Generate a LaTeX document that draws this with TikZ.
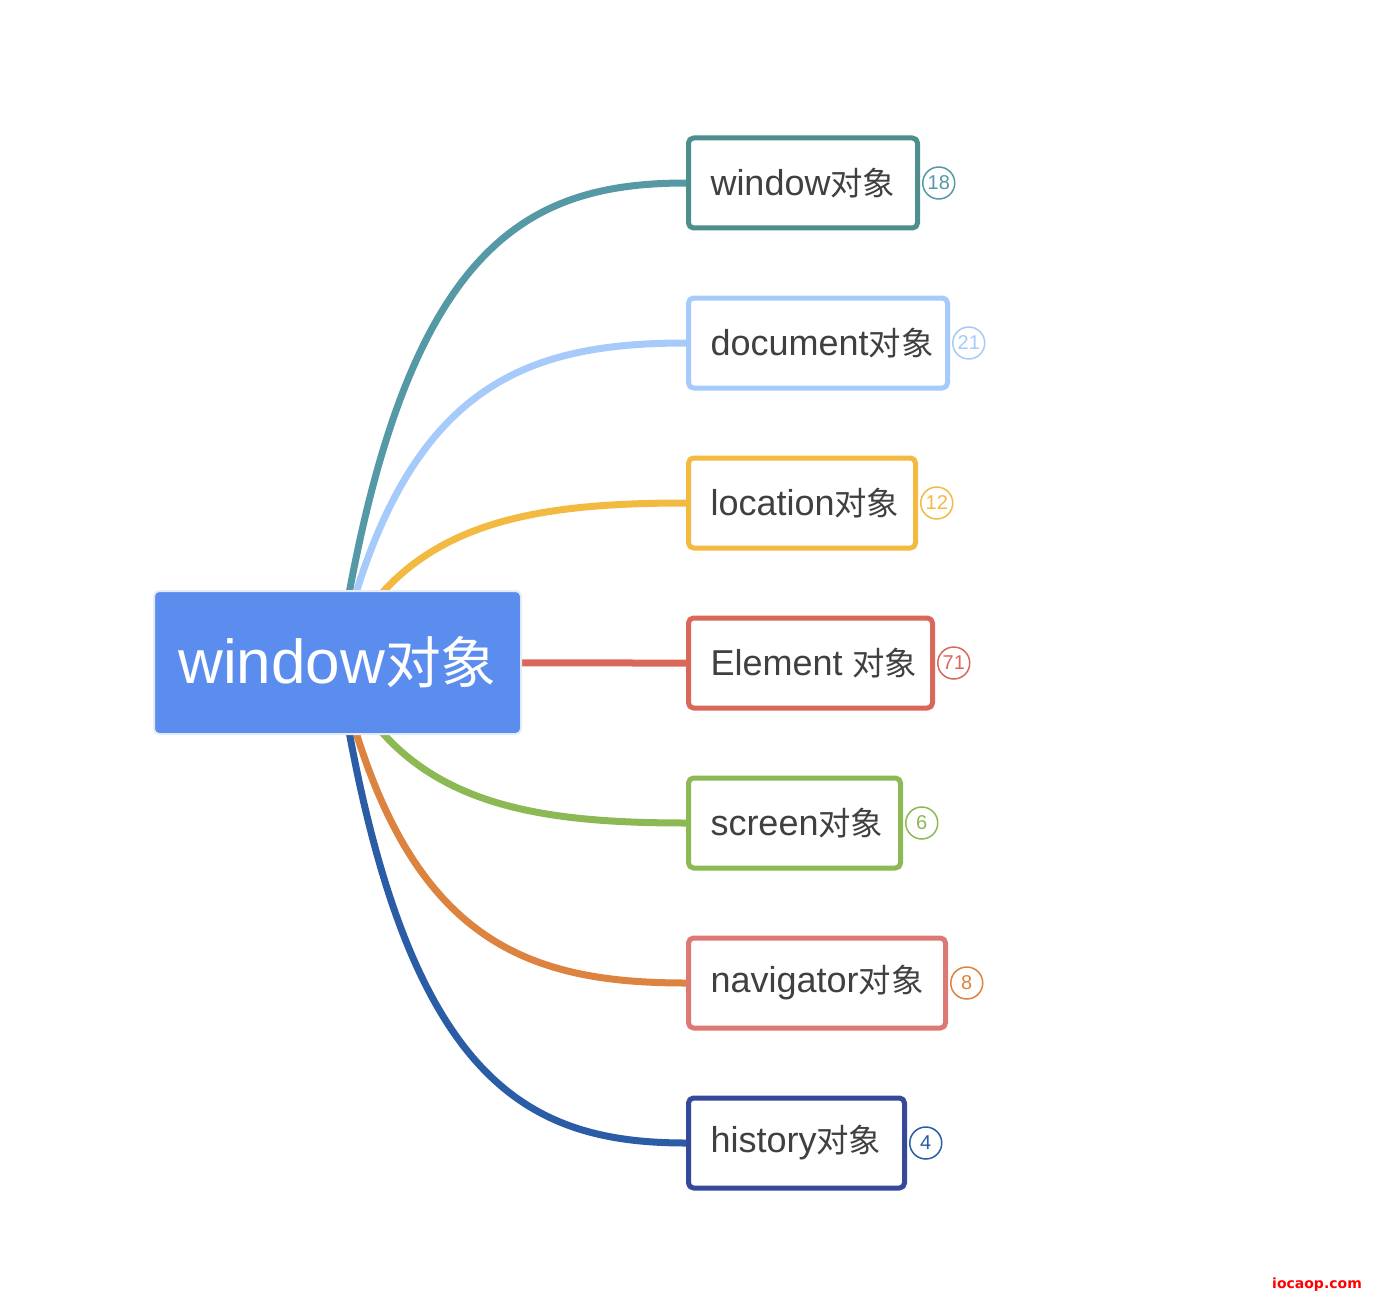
\documentclass[tikz,border=0pt]{standalone}
\usepackage{fontspec}
\setmainfont{Liberation Sans}
\newfontfamily\cjk{Noto Sans CJK SC}[Scale=0.9]
\newfontfamily\markfont{DejaVu Sans}
\usetikzlibrary{positioning,backgrounds}
\definecolor{mainfill}{HTML}{5B8DEF}
\definecolor{mainbd}{HTML}{E6ECF5}
\definecolor{txtgray}{HTML}{404040}
\definecolor{winbd}{HTML}{4E8E8C}
\definecolor{winln}{HTML}{5499A5}
\definecolor{docln}{HTML}{A6CBFA}
\definecolor{locln}{HTML}{F3BA42}
\definecolor{elemln}{HTML}{D9685A}
\definecolor{scrln}{HTML}{8DB955}
\definecolor{navbd}{HTML}{DD7974}
\definecolor{navln}{HTML}{DD8340}
\definecolor{hisbd}{HTML}{35489A}
\definecolor{hisln}{HTML}{2B5CA6}
\begin{document}
\begin{tikzpicture}[x=1pt,y=-1pt,line join=round]
\tikzset{
  topic/.style={rectangle, rounded corners=5pt, fill=mainfill, draw=mainbd, line width=2pt,
    minimum width=367pt, minimum height=143pt, text=white, font=\fontsize{62}{68}\selectfont},
  child/.style={rectangle, rounded corners=5pt, fill=white, line width=5pt, anchor=west,
    minimum height=90pt, inner xsep=22pt, text=txtgray,
    font=\fontsize{36}{42}\selectfont},
  count/.style={circle, line width=1.5pt, fill=white, minimum size=32pt, inner sep=0pt,
    font=\fontsize{20}{22}\selectfont},
  branch/.style={line width=7pt}
}
\useasboundingbox (0,0) rectangle (1392,1300);
\node[topic] (main) at (337.5,662.5) {window{\cjk 对象}};
\foreach \nm/\txt/\yy/\w/\bc/\lc/\num in {
  win/{window{\cjk 对象}}/183/234/winbd/winln/18,
  doc/{document{\cjk 对象}}/343/264/docln/docln/21,
  loc/{location{\cjk 对象}}/503/232/locln/locln/12,
  elem/{Element {\cjk 对象}}/663/249/elemln/elemln/71,
  scr/{screen{\cjk 对象}}/823/217/scrln/scrln/6,
  nav/{navigator{\cjk 对象}}/983/262/navbd/navln/8,
  his/{history{\cjk 对象}}/1143/221/hisbd/hisln/4}
{
  \pgfmathsetmacro\tw{\w-49}
  \node[child, draw=\bc] (\nm) at (686,\yy) {\makebox[\tw pt][l]{\txt}};
  \node[count, draw=\lc, text=\lc, right=2pt of \nm] (\nm-n) {\num};
  \begin{scope}[on background layer]
  \draw[branch, draw=\lc] (main.center) .. controls (400,{662-0.86*(662-\yy)}) and (520,\yy) .. (\nm.west);
  \end{scope}
}
\node[text=red, font=\markfont\bfseries\fontsize{14}{16}\selectfont] (mark) at (1317,1285) {iocaop.com};
\end{tikzpicture}
\end{document}
